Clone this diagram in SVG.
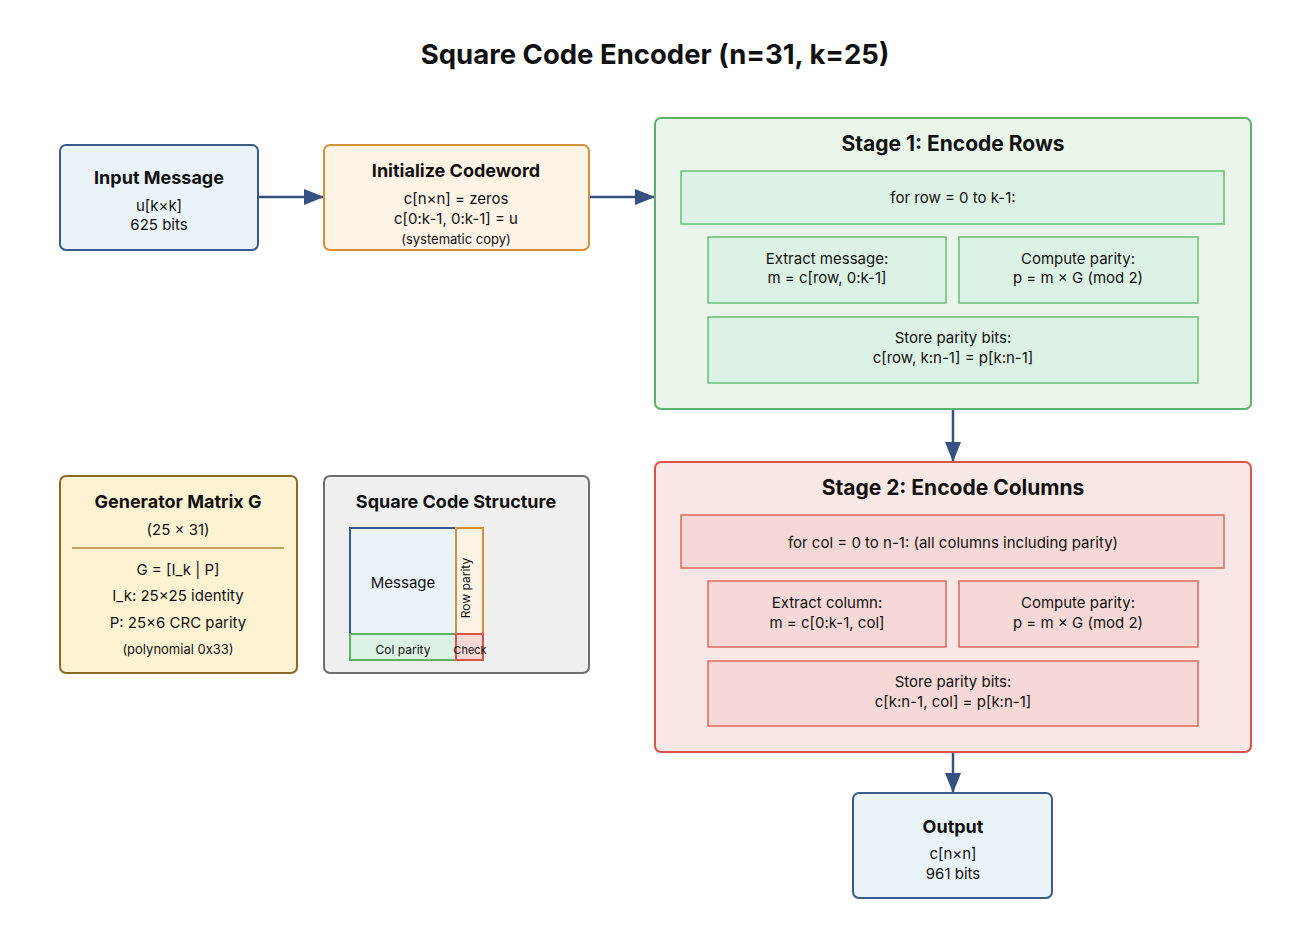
<svg xmlns="http://www.w3.org/2000/svg" width="1310" height="934" viewBox="0 0 1310 934">
<defs>
<marker id="arr" markerWidth="20" markerHeight="16" refX="20" refY="8" orient="auto" markerUnits="userSpaceOnUse" viewBox="0 0 20 16">
<path d="M0,0 L20,8 L0,16 Z" fill="#34517f"/>
</marker>
<style>
text{font-family:Inter,"Liberation Sans",Arial,sans-serif;fill:#111;text-anchor:middle}
.t{font-weight:bold;font-size:18px}
.st{font-weight:bold;font-size:21px}
.b{font-size:15px}
.s{font-size:13px}
.blue{fill:#eaf3f7;stroke:#3b5a8c;stroke-width:2}
.org{fill:#fdf4e6;stroke:#d4903a;stroke-width:2}
.grn{fill:#eaf6ea;stroke:#5cb26a;stroke-width:2}
.grnI{fill:#dcf2e4;stroke:#6bbf7a;stroke-width:1.5}
.red{fill:#fae8e6;stroke:#d9534a;stroke-width:2}
.redI{fill:#f6d9d6;stroke:#e0675e;stroke-width:1.5}
.gen{fill:#fdf3d3;stroke:#8a6a2a;stroke-width:2}
.gray{fill:#f0f0f0;stroke:#6e6e6e;stroke-width:2}
.c{stroke:#34517f;stroke-width:2.5;fill:none}
</style>
</defs>
<rect width="1310" height="934" fill="#ffffff"/>
<text x="655" y="64" style="font-weight:bold;font-size:27.5px">Square Code Encoder (n=31, k=25)</text>

<g id="connectors">
<line class="c" x1="258" y1="197" x2="324" y2="197" marker-end="url(#arr)"/>
<line class="c" x1="589" y1="197" x2="655" y2="197" marker-end="url(#arr)"/>
<line class="c" x1="953" y1="409" x2="953" y2="462" marker-end="url(#arr)"/>
<line class="c" x1="953" y1="752" x2="953" y2="793" marker-end="url(#arr)"/>
</g>

<g id="input">
<rect class="blue" x="60" y="145" width="198" height="105" rx="6"/>
<text class="t" x="159" y="184">Input Message</text>
<text class="b" x="159" y="211">u[k×k]</text>
<text class="b" x="159" y="230">625 bits</text>
</g>

<g id="init">
<rect class="org" x="324" y="145" width="265" height="105" rx="6"/>
<text class="t" x="456" y="177">Initialize Codeword</text>
<text class="b" x="456" y="204">c[n×n] = zeros</text>
<text class="b" x="456" y="224">c[0:k-1, 0:k-1] = u</text>
<text class="s" x="456" y="244">(systematic copy)</text>
</g>

<g id="stage1">
<rect class="grn" x="655" y="118" width="596" height="291" rx="6"/>
<text class="st" x="953" y="151">Stage 1: Encode Rows</text>
<rect class="grnI" x="681" y="171" width="543" height="53"/>
<text class="b" x="953" y="203">for row = 0 to k-1:</text>
<rect class="grnI" x="708" y="237" width="238" height="66"/>
<text class="b" x="827" y="264">Extract message:</text>
<text class="b" x="827" y="283">m = c[row, 0:k-1]</text>
<rect class="grnI" x="959" y="237" width="239" height="66"/>
<text class="b" x="1078" y="264">Compute parity:</text>
<text class="b" x="1078" y="283">p = m × G (mod 2)</text>
<rect class="grnI" x="708" y="317" width="490" height="66"/>
<text class="b" x="953" y="343">Store parity bits:</text>
<text class="b" x="953" y="363">c[row, k:n-1] = p[k:n-1]</text>
</g>

<g id="stage2">
<rect class="red" x="655" y="462" width="596" height="290" rx="6"/>
<text class="st" x="953" y="495">Stage 2: Encode Columns</text>
<rect class="redI" x="681" y="515" width="543" height="53"/>
<text class="b" x="953" y="548">for col = 0 to n-1: (all columns including parity)</text>
<rect class="redI" x="708" y="581" width="238" height="66"/>
<text class="b" x="827" y="608">Extract column:</text>
<text class="b" x="827" y="628">m = c[0:k-1, col]</text>
<rect class="redI" x="959" y="581" width="239" height="66"/>
<text class="b" x="1078" y="608">Compute parity:</text>
<text class="b" x="1078" y="628">p = m × G (mod 2)</text>
<rect class="redI" x="708" y="661" width="490" height="65"/>
<text class="b" x="953" y="687">Store parity bits:</text>
<text class="b" x="953" y="707">c[k:n-1, col] = p[k:n-1]</text>
</g>

<g id="output">
<rect class="blue" x="853" y="793" width="199" height="105" rx="6"/>
<text class="t" x="953" y="833">Output</text>
<text class="b" x="953" y="859">c[n×n]</text>
<text class="b" x="953" y="879">961 bits</text>
</g>

<g id="generator">
<rect class="gen" x="60" y="476" width="237" height="197" rx="6"/>
<text class="t" x="178" y="508">Generator Matrix G</text>
<text class="b" x="178" y="535">(25 × 31)</text>
<line x1="72" y1="548" x2="284" y2="548" stroke="#b08a3a" stroke-width="1.5"/>
<text class="b" x="178" y="575">G = [I_k | P]</text>
<text class="b" x="178" y="601">I_k: 25×25 identity</text>
<text class="b" x="178" y="628">P: 25×6 CRC parity</text>
<text class="s" x="178" y="654">(polynomial 0x33)</text>
</g>

<g id="structure">
<rect class="gray" x="324" y="476" width="265" height="197" rx="6"/>
<text class="t" x="456" y="508">Square Code Structure</text>
<rect x="350" y="528" width="106" height="106" fill="#eaf3f7" stroke="#3b5a8c" stroke-width="2"/>
<text class="b" x="403" y="588">Message</text>
<rect x="456" y="528" width="27" height="106" fill="#fdf4e6" stroke="#d4903a" stroke-width="2"/>
<text x="466" y="588" style="font-size:12px" transform="rotate(-90 466 588)" dy="4">Row parity</text>
<rect x="350" y="634" width="106" height="26" fill="#dcf2e4" stroke="#5cb26a" stroke-width="2"/>
<text x="403" y="654" style="font-size:12px">Col parity</text>
<rect x="456" y="634" width="27" height="26" fill="#f6d9d6" stroke="#d9534a" stroke-width="2"/>
<text x="470" y="654" style="font-size:11px">Check</text>
</g>
</svg>
